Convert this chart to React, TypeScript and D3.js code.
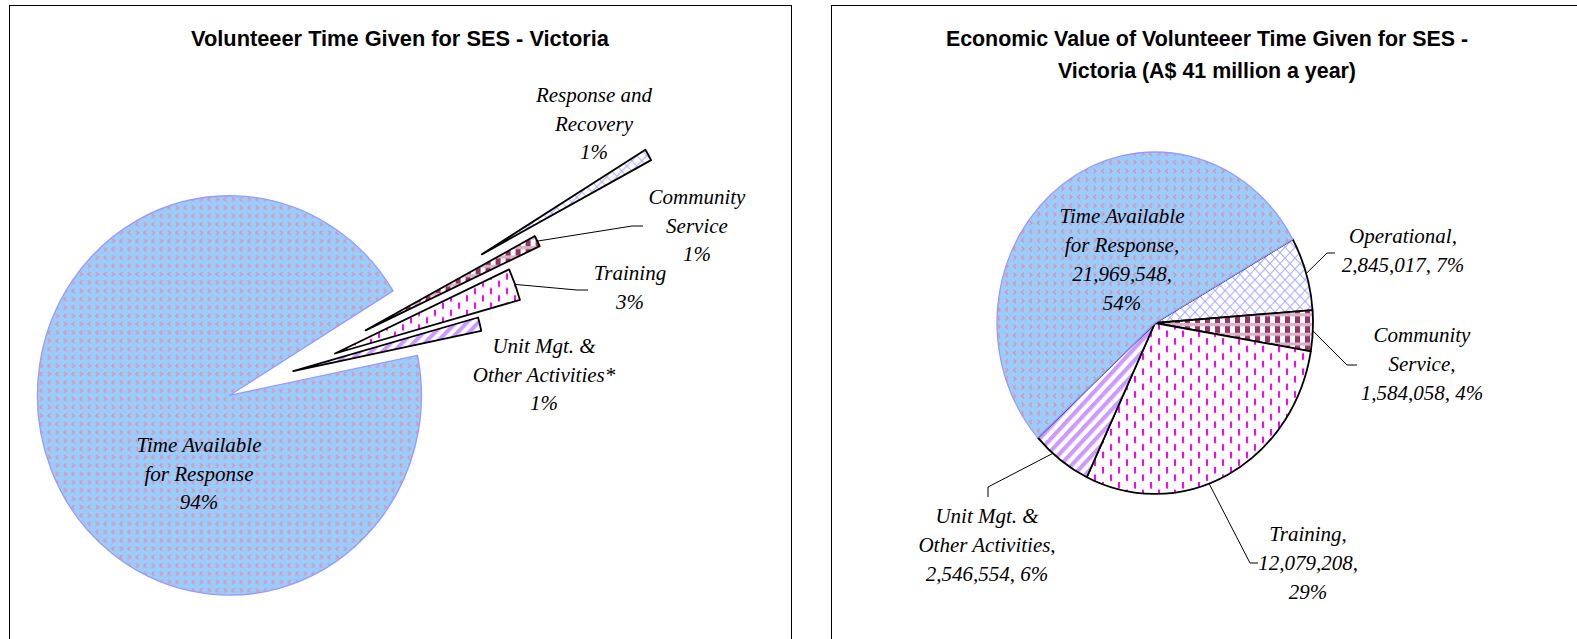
import React from 'react';
import * as d3 from 'd3';

// left chart: share of volunteer hours (%)
const timeNames = [["Time Available", "for Response"], ["Response and", "Recovery"], ["Community", "Service"], ["Training"], ["Unit Mgt. &", "Other Activities*"]];
const timeShares = [94.45, 0.95, 0.9, 2.6, 1.1];
const leftTitle = ["Volunteeer Time Given for SES - Victoria"];

// right chart: economic value (A$)
const valueNames = [["Time Available", "for Response,"], ["Operational,"], ["Community", "Service,"], ["Training,"], ["Unit Mgt. &", "Other Activities,"]];
const valueAmounts = [21969548, 2845017, 1584058, 12079208, 2546554];
const rightTitle = ["Economic Value of Volunteeer Time Given for SES -", "Victoria (A$ 41 million a year)"];

const fills = ["url(#patBlue)", "url(#patCross)", "url(#patCheck)", "url(#patDash)", "url(#patStripe)"];
const strokes = ["#9999ff", "#000", "#000", "#000", "#000"];

const serif = "'Liberation Serif', 'Times New Roman', serif";
const sans = "'Liberation Sans', Arial, sans-serif";
const rad = (deg: number) => (deg * Math.PI) / 180;

type Leader = { i: number; pts: number[][]; f: number };

function PieChart({ values, lines, cx, cy, r, sy, start, explode, labelPos, leaders, lineGap }: any) {
  const pie = d3.pie<number>().sort(null).value(d => d)
    .startAngle(rad(start)).endAngle(rad(start) + 2 * Math.PI);
  const arcs = pie(values);
  const arc = d3.arc<d3.PieArcDatum<number>>().innerRadius(0).outerRadius(r);
  const order = [1, 2, 3, 4, 0];

  const pt = (a: number, rr: number) => [cx + Math.sin(a) * rr, cy - Math.cos(a) * rr * sy];

  return (
    <g>
      <g transform={`translate(${cx},${cy}) scale(1,${sy})`}>
        {order.map(i => {
          const a = arcs[i];
          const mid = (a.startAngle + a.endAngle) / 2;
          const d = explode[i];
          return (
            <path key={i} d={arc(a) || ""}
              transform={`translate(${Math.sin(mid) * d},${-Math.cos(mid) * d})`}
              fill={fills[i]} stroke={strokes[i]} strokeWidth={i === 0 ? 1.3 : 1.8}
              strokeLinejoin="round" vectorEffect="non-scaling-stroke" />
          );
        })}
      </g>
      {(leaders as Leader[]).map(l => {
        const a = arcs[l.i];
        const ang = a.startAngle + (a.endAngle - a.startAngle) * l.f;
        const end = pt(ang, r + explode[l.i]);
        const all = [...l.pts, end];
        return <path key={"l" + l.i} d={d3.line()(all as [number, number][]) || ""} fill="none" stroke="#000" strokeWidth={1} />;
      })}
      {lines.map((ls: string[], i: number) => (
        <text key={"t" + i} x={labelPos[i][0]} fontFamily={serif} fontStyle="italic" fontSize={21} textAnchor="middle" fill="#000">
          {ls.map((s, k) => (
            <tspan key={k} x={labelPos[i][0]} y={labelPos[i][1] + 7 + k * lineGap}>{s}</tspan>
          ))}
        </text>
      ))}
    </g>
  );
}

export default function App() {
  const tTotal = d3.sum(timeShares);
  const pct = (v: number, tot: number) => Math.round((v / tot) * 100) + "%";
  const leftLines = timeNames.map((n, i) => [...n, pct(timeShares[i], tTotal)]);

  const vTotal = d3.sum(valueAmounts);
  const fmt = d3.format(",");
  const splitNum = [true, false, false, true, false];
  const rightLines = valueNames.map((n, i) => {
    const num = fmt(valueAmounts[i]);
    const p = pct(valueAmounts[i], vTotal);
    return splitNum[i] ? [...n, num + ",", p] : [...n, num + ", " + p];
  });

  return (
    <svg width={1577} height={639} style={{ position: 'absolute', left: 0, top: 0, background: '#fff' }}>
      <defs>
        <pattern id="patBlue" width={16} height={16} patternUnits="userSpaceOnUse">
          <rect width={16} height={16} fill="#99ccff" />
          <g fill="none" stroke="#f4868c" strokeWidth={1.2}>
            <path d="M2.5 1.5 L5 3.5 L2.5 5.5" />
            <path d="M13 1.5 L10.5 3.5 L13 5.5" />
            <path d="M5 9.5 L2.5 11.5 L5 13.5" />
            <path d="M10.5 9.5 L13 11.5 L10.5 13.5" />
          </g>
        </pattern>
        <pattern id="patCross" width={10} height={10} patternUnits="userSpaceOnUse">
          <rect width={10} height={10} fill="#fff" />
          <path d="M0 0 L10 10 M10 0 L0 10" stroke="#a8a8ff" strokeWidth={1} />
        </pattern>
        <pattern id="patCheck" width={10} height={9} patternUnits="userSpaceOnUse">
          <rect width={10} height={9} fill="#d9b3c6" />
          <rect x={0} y={3} width={5} height={6} fill="#993366" />
          <rect x={5} y={3} width={5} height={6} fill="#fff" />
        </pattern>
        <pattern id="patDash" width={16} height={14} patternUnits="userSpaceOnUse">
          <rect width={16} height={14} fill="#fff" />
          <rect x={3} y={0} width={2} height={6} fill="#ff00ff" />
          <rect x={11} y={7} width={2} height={6} fill="#ff00ff" />
        </pattern>
        <pattern id="patStripe" width={8} height={8} patternUnits="userSpaceOnUse" patternTransform="rotate(45)">
          <rect width={8} height={8} fill="#fff" />
          <rect x={0} y={0} width={4} height={8} fill="#cc99ff" />
        </pattern>
      </defs>

      <rect x={9.5} y={5.5} width={782} height={700} fill="#fff" stroke="#000" strokeWidth={1} />
      <rect x={831.5} y={5.5} width={800} height={700} fill="#fff" stroke="#000" strokeWidth={1} />

      {leftTitle.map((t, k) => (
        <text key={k} x={400} y={46 + k * 32} textAnchor="middle" fontFamily={sans} fontWeight="bold" fontSize={21.8}>{t}</text>
      ))}
      {rightTitle.map((t, k) => (
        <text key={k} x={1207} y={46 + k * 32} textAnchor="middle" fontFamily={sans} fontWeight="bold" fontSize={21.4}>{t}</text>
      ))}

      <PieChart values={timeShares} lines={leftLines}
        cx={281.5} cy={374} r={192} sy={1.04} start={78.4}
        explode={[56, 231, 94, 57, 12]}
        labelPos={[[199, 445], [594, 95], [697, 197], [630, 273], [544, 346]]}
        lineGap={28.5}
        leaders={[
          { i: 2, pts: [[643, 226], [632, 226]], f: 0.5 },
          { i: 3, pts: [[588, 290], [577, 290]], f: 0.5 },
        ]} />

      <PieChart values={valueAmounts} lines={rightLines}
        cx={1155} cy={323} r={158} sy={1.082} start={-132.1}
        explode={[0, 0, 0, 0, 0]}
        labelPos={[[1122, 216], [1403, 236], [1422, 335], [1308, 534], [987, 516]]}
        lineGap={29}
        leaders={[
          { i: 1, pts: [[1335, 253], [1327, 253]], f: 0.5 },
          { i: 2, pts: [[1357, 365], [1347, 365]], f: 0.5 },
          { i: 3, pts: [[1258, 563], [1250, 563]], f: 0.57 },
          { i: 4, pts: [[988, 497], [988, 487]], f: 0.66 },
        ]} />
    </svg>
  );
}
